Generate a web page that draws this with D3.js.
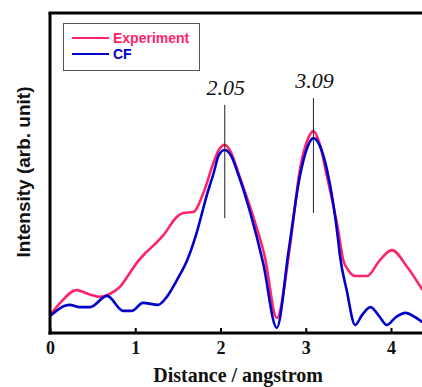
<!DOCTYPE html>
<html>
<head>
<meta charset="utf-8">
<script src="https://cdn.jsdelivr.net/npm/d3@7"></script>
<style>
  body { margin: 0; background: #fff; }
  svg { display: block; }
  .tick text { font-family: "Liberation Serif", "Times New Roman", serif; font-weight: bold; font-size: 18px; fill: #111; }
</style>
</head>
<body>
<div id="chart"></div>
<script>
// distance (angstrom) and intensity (arb. unit)
const expX = [0, 0.12, 0.31, 0.45, 0.59, 0.70, 0.82, 0.92, 1.02, 1.12, 1.22, 1.33, 1.49, 1.56, 1.68, 1.80, 1.92, 1.98, 2.05, 2.12, 2.21, 2.37, 2.52, 2.66, 2.82, 2.93, 3.02, 3.09, 3.16, 3.25, 3.38, 3.44, 3.50, 3.58, 3.72, 3.87, 4.01, 4.19, 4.37];
const expY = [5.6, 9.4, 13.4, 12.2, 11.3, 12.2, 14.4, 18.1, 22.0, 25.0, 27.5, 30.6, 36.3, 37.5, 37.8, 43.8, 53.4, 57.2, 58.8, 56.6, 50.0, 37.5, 23.8, 4.7, 28.1, 50.9, 60.3, 63.1, 59.4, 48.8, 32.2, 22.8, 19.6, 17.8, 17.8, 22.8, 25.9, 20.6, 13.4];

const cfX = [0, 0.23, 0.35, 0.47, 0.67, 0.86, 0.96, 1.09, 1.27, 1.37, 1.49, 1.61, 1.72, 1.84, 1.92, 1.98, 2.05, 2.12, 2.21, 2.35, 2.50, 2.66, 2.80, 2.93, 3.02, 3.09, 3.16, 3.25, 3.38, 3.40, 3.48, 3.58, 3.66, 3.76, 3.86, 3.95, 4.06, 4.17, 4.28, 4.37];
const cfY = [5.3, 8.8, 8.1, 8.1, 11.6, 6.9, 6.9, 9.4, 8.8, 11.3, 16.6, 22.8, 31.3, 43.1, 50.0, 55.6, 57.2, 55.6, 49.4, 37.5, 21.9, 1.6, 25.9, 48.8, 58.1, 60.9, 58.8, 50.9, 29.1, 24.4, 13.4, 2.5, 5.6, 8.1, 5.3, 2.5, 5.0, 6.3, 5.0, 3.4];

const xTicks = [0, 1, 2, 3, 4];
const peakPos = [2.05, 3.09];
const peakLabels = ['2.05', '3.09'];
const peakTop = [71.3, 73.4];
const peakBottom = [35.9, 37.5];

const seriesNames = ['Experiment', 'CF'];
const seriesColors = ['#ff2468', '#0000cc'];

const width = 422, height = 387;
const margin = { left: 50, top: 13, bottom: 54 };

const svg = d3.select('#chart').append('svg')
    .attr('width', width)
    .attr('height', height);

const x = d3.scaleLinear()
    .domain([0, 4.4])
    .range([margin.left, margin.left + 4.4 * 85.25]);

const y = d3.scaleLinear()
    .domain([0, 100])
    .range([height - margin.bottom, margin.top]);

const line = d3.line()
    .x(d => x(d[0]))
    .y(d => y(d[1]))
    .curve(d3.curveMonotoneX);

const series = [d3.zip(expX, expY), d3.zip(cfX, cfY)];

svg.append('defs').append('clipPath')
    .attr('id', 'plot-clip')
    .append('rect')
    .attr('x', margin.left)
    .attr('y', margin.top)
    .attr('width', width - margin.left)
    .attr('height', height - margin.bottom - margin.top);

svg.append('g')
    .attr('clip-path', 'url(#plot-clip)')
    .selectAll('path')
    .data(series)
    .enter()
    .append('path')
    .attr('d', line)
    .attr('fill', 'none')
    .attr('stroke', (d, i) => seriesColors[i])
    .attr('stroke-width', 2.6)
    .attr('stroke-linejoin', 'round');

// peak markers
svg.selectAll('.peak-line')
    .data(peakPos)
    .enter()
    .append('line')
    .attr('class', 'peak-line')
    .attr('x1', d => x(d))
    .attr('x2', d => x(d))
    .attr('y1', (d, i) => y(peakTop[i]))
    .attr('y2', (d, i) => y(peakBottom[i]))
    .attr('stroke', '#222')
    .attr('stroke-width', 1);

svg.selectAll('.peak-label')
    .data(peakPos)
    .enter()
    .append('text')
    .attr('class', 'peak-label')
    .attr('x', d => x(d) + 1)
    .attr('y', (d, i) => y(peakTop[i]) - 10)
    .attr('text-anchor', 'middle')
    .style('font-family', '"Liberation Serif", "Times New Roman", serif')
    .style('font-style', 'italic')
    .style('font-size', '22px')
    .attr('fill', '#111')
    .text((d, i) => peakLabels[i]);

// axes
const xAxis = svg.append('g')
    .attr('transform', `translate(0,${y(0)})`)
    .call(d3.axisBottom(x).tickValues(xTicks).tickFormat(d3.format('d'))
        .tickSizeInner(-5).tickSizeOuter(0).tickPadding(8))
    .call(g => g.select('.domain').remove());
xAxis.selectAll('.tick line').attr('stroke', '#000').attr('stroke-width', 2);

svg.append('line')
    .attr('x1', margin.left - 1.5).attr('x2', width)
    .attr('y1', y(0)).attr('y2', y(0))
    .attr('stroke', '#000').attr('stroke-width', 3);
svg.append('line')
    .attr('x1', margin.left - 1.5).attr('x2', width)
    .attr('y1', margin.top).attr('y2', margin.top)
    .attr('stroke', '#000').attr('stroke-width', 3);
svg.append('line')
    .attr('x1', margin.left).attr('x2', margin.left)
    .attr('y1', margin.top).attr('y2', y(0) + 1.5)
    .attr('stroke', '#000').attr('stroke-width', 3);

svg.append('text')
    .attr('x', 238)
    .attr('y', 382)
    .attr('text-anchor', 'middle')
    .style('font-family', '"Liberation Serif", "Times New Roman", serif')
    .style('font-weight', 'bold')
    .style('font-size', '20px')
    .attr('fill', '#111')
    .text('Distance / angstrom');

svg.append('text')
    .attr('transform', 'translate(30,172) rotate(-90)')
    .attr('text-anchor', 'middle')
    .style('font-family', '"Liberation Sans", Arial, sans-serif')
    .style('font-weight', 'bold')
    .style('font-size', '19px')
    .attr('fill', '#111')
    .text('Intensity (arb. unit)');

// legend
const legend = svg.append('g');
legend.append('rect')
    .attr('x', 63.5).attr('y', 23.5)
    .attr('width', 136).attr('height', 47)
    .attr('fill', '#fff')
    .attr('stroke', '#555')
    .attr('stroke-width', 1);

const items = legend.selectAll('.item')
    .data(seriesNames)
    .enter()
    .append('g')
    .attr('transform', (d, i) => `translate(72,${38 + i * 16})`);
items.append('line')
    .attr('x1', 0).attr('x2', 37)
    .attr('stroke', (d, i) => seriesColors[i])
    .attr('stroke-width', 2.2);
items.append('text')
    .attr('x', 41)
    .attr('dy', '0.36em')
    .style('font-family', '"Liberation Sans", Arial, sans-serif')
    .style('font-weight', 'bold')
    .style('font-size', '14px')
    .attr('fill', (d, i) => seriesColors[i])
    .text(d => d);
</script>
</body>
</html>
